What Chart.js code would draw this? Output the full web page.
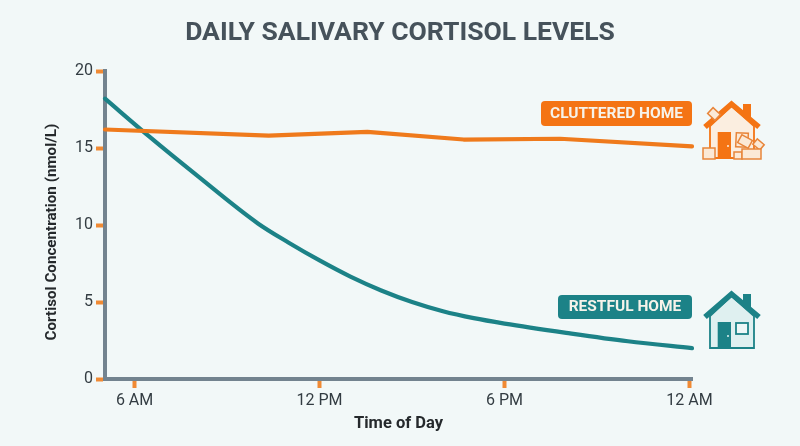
<!DOCTYPE html>
<html>
<head>
<meta charset="utf-8">
<title>Daily Salivary Cortisol Levels</title>
<script src="https://cdn.jsdelivr.net/npm/chart.js@4"></script>
<style>
html,body{margin:0;padding:0;background:#f2f8f8;}
canvas{display:block;}
</style>
</head>
<body>
<canvas id="cortisolChart" width="800" height="446"></canvas>
<script>
/* Data */

const clutteredHours=[5.04,10.35,13.55,16.67,19.8,24.08];
const clutteredValues=[16.2,15.8,16.05,15.55,15.6,15.1];

const restfulHours=[5.04,6.5,8,10,11,12,13,14,15,16,17,18,20,22,24.08];
const restfulValues=[18.2,15.7,13.25,10.1,8.85,7.7,6.65,5.75,5.0,4.4,3.95,3.6,3.0,2.45,2.0];

const xTickHours=[6,12,18,24];
const xTickLabels=["6 AM","12 PM","6 PM","12 AM"];
const yTicks=[0,5,10,15,20];

const ORANGE="#ef7a1c";
const TEAL="#1c8287";

const toPoints=(xs,ys)=>xs.map((x,i)=>({x:x,y:ys[i]}));

/* Helpers for the badges and house icons */

function badge(ctx,x,y,w,h,color,text){
ctx.fillStyle=color;
ctx.beginPath();
ctx.roundRect(x,y,w,h,4);
ctx.fill();
ctx.fillStyle="#f6f3ea";
ctx.font="bold 15.5px Roboto";
ctx.textAlign="center";
ctx.textBaseline="middle";
ctx.fillText(text,x+w/2,y+h/2+0.5);
}

function house(ctx,top,base,color,wall){
ctx.lineJoin="miter";
ctx.strokeStyle=color;

/* chimney */
ctx.fillStyle=color;
ctx.fillRect(743,top+3,8,14);

/* wall */
ctx.fillStyle=wall;
ctx.lineWidth=1.8;
ctx.beginPath();
ctx.moveTo(710,top+25);
ctx.lineTo(731.5,top+5);
ctx.lineTo(754,top+25);
ctx.lineTo(754,base);
ctx.lineTo(710,base);
ctx.closePath();
ctx.fill();
ctx.stroke();

/* roof */
ctx.lineWidth=5.5;
ctx.beginPath();
ctx.moveTo(705,top+26);
ctx.lineTo(731.5,top+3);
ctx.lineTo(759,top+26);
ctx.stroke();

/* door */
ctx.fillStyle=color;
ctx.fillRect(717.7,top+31,13.3,base-top-31);
ctx.fillStyle=wall;
ctx.beginPath();
ctx.arc(728,top+45,1,0,Math.PI*2);
ctx.fill();
}

function box(ctx,x,y,w,h,angle){
ctx.save();
ctx.translate(x+w/2,y+h/2);
ctx.rotate(angle);
ctx.fillStyle="#fbe9d6";
ctx.strokeStyle="#e8853a";
ctx.lineWidth=1.5;
ctx.fillRect(-w/2,-h/2,w,h);
ctx.strokeRect(-w/2,-h/2,w,h);
ctx.restore();
}

/* Titles, labels and icons around the plot */

const decorations={
id:"decorations",
afterDatasetsDraw(chart){
const ctx=chart.ctx;
ctx.save();

ctx.textAlign="center";
ctx.textBaseline="middle";
ctx.fillStyle="#46525b";
ctx.font="bold 26.5px Roboto";
ctx.fillText("DAILY SALIVARY CORTISOL LEVELS",400,33);

ctx.save();
ctx.translate(52,232);
ctx.rotate(-Math.PI/2);
ctx.fillStyle="#25292c";
ctx.font="bold 15.2px Roboto";
ctx.fillText("Cortisol Concentration (nmol/L)",0,0);
ctx.restore();

badge(ctx,541,101,151,25,"#f47414","CLUTTERED HOME");
badge(ctx,558,295,134,24,TEAL,"RESTFUL HOME");

house(ctx,101,158,"#f47414","#fbeee0");
box(ctx,709,110,10,8,0.75);
box(ctx,736,133,12,14,0.05);
box(ctx,739,137,12,9,0.5);
box(ctx,754,141,9,7,0.7);
box(ctx,703,148,12,11,0);
box(ctx,734,152,8,7,0);
box(ctx,742,149,19,10,0);

house(ctx,291,348,TEAL,"#dff0f0");
ctx.fillStyle="#eef7f7";
ctx.strokeStyle=TEAL;
ctx.lineWidth=1.8;
ctx.fillRect(736,323,12,11);
ctx.strokeRect(736,323,12,11);

ctx.restore();
}
};

/* Chart */

new Chart(document.getElementById("cortisolChart"),{
type:"line",
plugins:[decorations],
data:{
datasets:[
{
label:"Cluttered Home",
data:toPoints(clutteredHours,clutteredValues),
borderColor:ORANGE,
borderWidth:4.2,
borderCapStyle:"round",
borderJoinStyle:"round",
tension:0,
pointRadius:0,
clip:false
},
{
label:"Restful Home",
data:toPoints(restfulHours,restfulValues),
borderColor:TEAL,
borderWidth:4.2,
borderCapStyle:"round",
cubicInterpolationMode:"monotone",
pointRadius:0,
clip:false
}
]
},
options:{
responsive:false,
animation:false,
layout:{padding:{top:71,right:108,bottom:12,left:0}},
plugins:{
legend:{display:false},
tooltip:{enabled:false}
},
scales:{
x:{
type:"linear",
min:5.04,
max:24.08,
afterBuildTicks:axis=>{axis.ticks=xTickHours.map(v=>({value:v}));},
afterFit:axis=>{axis.height=55;},
ticks:{
autoSkip:false,
maxRotation:0,
color:"#333c42",
font:{family:"Roboto",size:16},
padding:3,
callback:v=>xTickLabels[xTickHours.indexOf(v)]
},
grid:{drawOnChartArea:false,tickColor:"#f08a34",tickWidth:4,tickLength:9},
border:{color:"#73838f",width:4},
title:{
display:true,
text:"Time of Day",
color:"#25292c",
font:{family:"Roboto",size:16.5,weight:"bold"},
padding:{top:4,bottom:0}
}
},
y:{
min:0,
max:20,
afterBuildTicks:axis=>{axis.ticks=yTicks.map(v=>({value:v}));},
afterFit:axis=>{axis.width=105;},
ticks:{
color:"#333c42",
font:{family:"Roboto",size:16},
padding:3
},
grid:{drawOnChartArea:false,tickColor:"#f08a34",tickWidth:4,tickLength:9},
border:{color:"#73838f",width:4}
}
}
}
});
</script>
</body>
</html>
